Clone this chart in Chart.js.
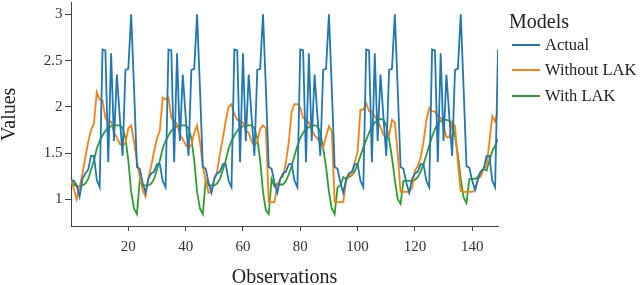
<!DOCTYPE html>
<html>
<head>
<meta charset="utf-8">
<script src="https://cdn.jsdelivr.net/npm/chart.js@4.4.1/dist/chart.umd.min.js"></script>
<style>
  body { margin: 0; background: #fff; }
  #wrap { position: relative; width: 640px; height: 285px; }
  .lg { position: absolute; font-family: 'Liberation Serif', serif; color: #222; white-space: nowrap; }
  .lg-title { left: 509px; top: 11px; font-size: 20px; line-height: 20px; }
  .lg-text { left: 545px; font-size: 16.5px; line-height: 20px; }
  .lg-line { position: absolute; left: 512px; width: 28px; height: 2px; }
</style>
</head>
<body>
<div id="wrap">
  <canvas id="chart" width="640" height="285"></canvas>
  <div class="lg lg-title">Models</div>
  <div class="lg-line" style="top:44px;background:#1f77b4"></div>
  <div class="lg lg-text" style="top:35px">Actual</div>
  <div class="lg-line" style="top:69px;background:#ff7f0e"></div>
  <div class="lg lg-text" style="top:60px">Without LAK</div>
  <div class="lg-line" style="top:94.5px;background:#2ca02c"></div>
  <div class="lg lg-text" style="top:85.5px">With LAK</div>
</div>
<script>
// Values, one row per 23-step cycle
const actual = [
  1.21, 1.20, 1.15, 1.03, 1.22, 1.28, 1.32, 1.47, 1.47, 1.21, 1.13, 2.62, 2.61, 1.40, 2.58, 1.63, 2.35, 1.90, 1.47, 2.40, 2.41, 3.00, 2.20,
  1.35, 1.33, 1.18, 1.07, 1.22, 1.28, 1.30, 1.38, 1.38, 1.20, 1.13, 2.62, 2.61, 1.40, 2.58, 1.63, 2.35, 1.90, 1.47, 2.40, 2.41, 3.00, 2.20,
  1.35, 1.33, 1.18, 1.07, 1.22, 1.28, 1.30, 1.38, 1.38, 1.20, 1.13, 2.62, 2.61, 1.40, 2.58, 1.63, 2.35, 1.90, 1.47, 2.40, 2.41, 3.00, 2.20,
  1.35, 1.33, 1.18, 1.07, 1.22, 1.28, 1.30, 1.38, 1.38, 1.20, 1.13, 2.62, 2.61, 1.40, 2.58, 1.63, 2.35, 1.90, 1.47, 2.40, 2.41, 3.00, 2.20,
  1.35, 1.33, 1.18, 1.07, 1.22, 1.28, 1.30, 1.38, 1.38, 1.20, 1.13, 2.62, 2.61, 1.40, 2.58, 1.63, 2.35, 1.90, 1.47, 2.40, 2.41, 3.00, 2.20,
  1.35, 1.33, 1.18, 1.07, 1.22, 1.28, 1.30, 1.38, 1.38, 1.20, 1.13, 2.62, 2.61, 1.40, 2.58, 1.63, 2.35, 1.90, 1.47, 2.40, 2.41, 3.00, 2.20,
  1.36, 1.34, 1.20, 1.10, 1.22, 1.30, 1.33, 1.47, 1.47, 1.20, 1.13, 2.62
];
const withoutLak = [
  1.21, 1.11, 1.00, 1.13, 1.28, 1.45, 1.62, 1.75, 1.82, 2.16, 2.08, 2.07, 1.88, 1.85, 1.84, 1.72, 1.67, 1.60, 1.58, 1.61, 1.77, 1.80, 1.62,
  1.42, 1.24, 1.10, 1.03, 1.23, 1.36, 1.52, 1.66, 1.74, 2.10, 2.08, 2.10, 1.88, 1.85, 1.81, 1.70, 1.65, 1.59, 1.55, 1.59, 1.72, 1.80, 1.62,
  1.35, 1.20, 1.07, 1.08, 1.23, 1.30, 1.50, 1.66, 1.85, 2.00, 2.03, 1.92, 1.86, 1.85, 1.83, 1.74, 1.72, 1.63, 1.58, 1.62, 1.76, 1.80, 1.77,
  0.97, 0.97, 0.97, 1.15, 1.22, 1.25, 1.40, 1.62, 1.95, 2.03, 2.03, 1.99, 1.88, 1.86, 1.83, 1.75, 1.69, 1.66, 1.61, 1.56, 1.68, 1.79, 1.74,
  0.97, 0.97, 0.97, 0.97, 1.20, 1.26, 1.26, 1.40, 1.51, 1.97, 1.97, 2.04, 1.95, 1.95, 1.90, 1.84, 1.78, 1.70, 1.67, 1.69, 1.86, 1.83, 1.50,
  1.08, 1.08, 1.08, 1.08, 1.12, 1.31, 1.36, 1.45, 1.62, 1.85, 1.99, 1.95, 1.95, 1.90, 1.88, 1.80, 1.67, 1.67, 1.84, 1.79, 1.40, 1.09, 1.08,
  1.08, 1.08, 1.08, 1.10, 1.22, 1.25, 1.33, 1.36, 1.62, 1.90, 1.84, 1.97
];
const withLak = [
  1.21, 1.16, 1.14, 1.14, 1.15, 1.17, 1.22, 1.32, 1.42, 1.55, 1.63, 1.69, 1.74, 1.77, 1.79, 1.80, 1.80, 1.80, 1.77, 1.66, 1.42, 1.08, 0.90,
  0.84, 1.21, 1.15, 1.15, 1.15, 1.17, 1.22, 1.32, 1.42, 1.55, 1.63, 1.69, 1.74, 1.77, 1.79, 1.80, 1.80, 1.80, 1.77, 1.66, 1.42, 1.08, 0.90,
  0.84, 1.21, 1.15, 1.15, 1.15, 1.17, 1.22, 1.32, 1.42, 1.55, 1.63, 1.69, 1.74, 1.77, 1.79, 1.80, 1.80, 1.80, 1.77, 1.66, 1.42, 1.08, 0.88,
  0.84, 1.22, 1.14, 1.17, 1.16, 1.16, 1.20, 1.27, 1.36, 1.47, 1.58, 1.66, 1.72, 1.76, 1.78, 1.80, 1.80, 1.79, 1.73, 1.55, 1.35, 1.08, 0.90,
  0.84, 1.13, 1.15, 1.24, 1.22, 1.24, 1.26, 1.30, 1.38, 1.47, 1.56, 1.64, 1.72, 1.79, 1.83, 1.86, 1.87, 1.86, 1.80, 1.65, 1.45, 1.21, 1.00,
  0.95, 1.20, 1.20, 1.20, 1.20, 1.21, 1.24, 1.30, 1.38, 1.48, 1.58, 1.68, 1.76, 1.82, 1.85, 1.86, 1.86, 1.85, 1.81, 1.68, 1.48, 1.22, 1.02,
  0.96, 1.22, 1.22, 1.22, 1.24, 1.30, 1.33, 1.31, 1.42, 1.52, 1.58, 1.65
];
const observations = actual.map((v, i) => i);
const xTicks = [20, 40, 60, 80, 100, 120, 140];
const yTicks = [1, 1.5, 2, 2.5, 3];

const serif = 'Liberation Serif';

function toPoints(values) {
  return values.map((v, i) => ({ x: observations[i], y: v }));
}

const ctx = document.getElementById('chart').getContext('2d');
new Chart(ctx, {
  type: 'line',
  data: {
    datasets: [
      { label: 'Actual', data: toPoints(actual), borderColor: '#1f77b4' },
      { label: 'Without LAK', data: toPoints(withoutLak), borderColor: '#ff7f0e' },
      { label: 'With LAK', data: toPoints(withLak), borderColor: '#2ca02c' }
    ]
  },
  options: {
    responsive: false,
    animation: false,
    layout: { padding: { top: 0, right: 142, bottom: 0, left: 0 } },
    elements: {
      point: { radius: 0 },
      line: { borderWidth: 1.8, tension: 0, fill: false }
    },
    plugins: {
      legend: { display: false },
      tooltip: { enabled: false }
    },
    scales: {
      x: {
        type: 'linear',
        min: 0,
        max: 149,
        afterBuildTicks: s => { s.ticks = xTicks.map(v => ({ value: v })); },
        afterFit: s => { s.height = 59; },
        grid: { display: true, drawOnChartArea: false, drawTicks: true, tickLength: 5, tickColor: '#444' },
        border: { display: true, color: '#444', width: 1 },
        ticks: { font: { family: serif, size: 15 }, color: '#333', padding: 6.6, maxRotation: 0 },
        title: {
          display: true, text: 'Observations', color: '#222',
          font: { family: serif, size: 20, lineHeight: 1 },
          padding: { top: 0, bottom: -2.5 }
        }
      },
      y: {
        min: 0.711,
        max: 3.128,
        afterBuildTicks: s => { s.ticks = yTicks.map(v => ({ value: v })); },
        afterFit: s => { s.width = 71; },
        grid: { display: true, drawOnChartArea: false, drawTicks: true, tickLength: 6, tickColor: '#444' },
        border: { display: true, color: '#444', width: 1 },
        ticks: {
          // tiny line height so the top label does not push the plot area down
          font: { family: serif, size: 15, lineHeight: 0.01 },
          color: '#333',
          padding: 2.5,
          callback: v => String(v)
        },
        title: {
          display: true, text: 'Values', color: '#222',
          font: { family: serif, size: 20, lineHeight: 1 },
          padding: { top: 0, bottom: 0 }
        }
      }
    }
  }
});
</script>
</body>
</html>
